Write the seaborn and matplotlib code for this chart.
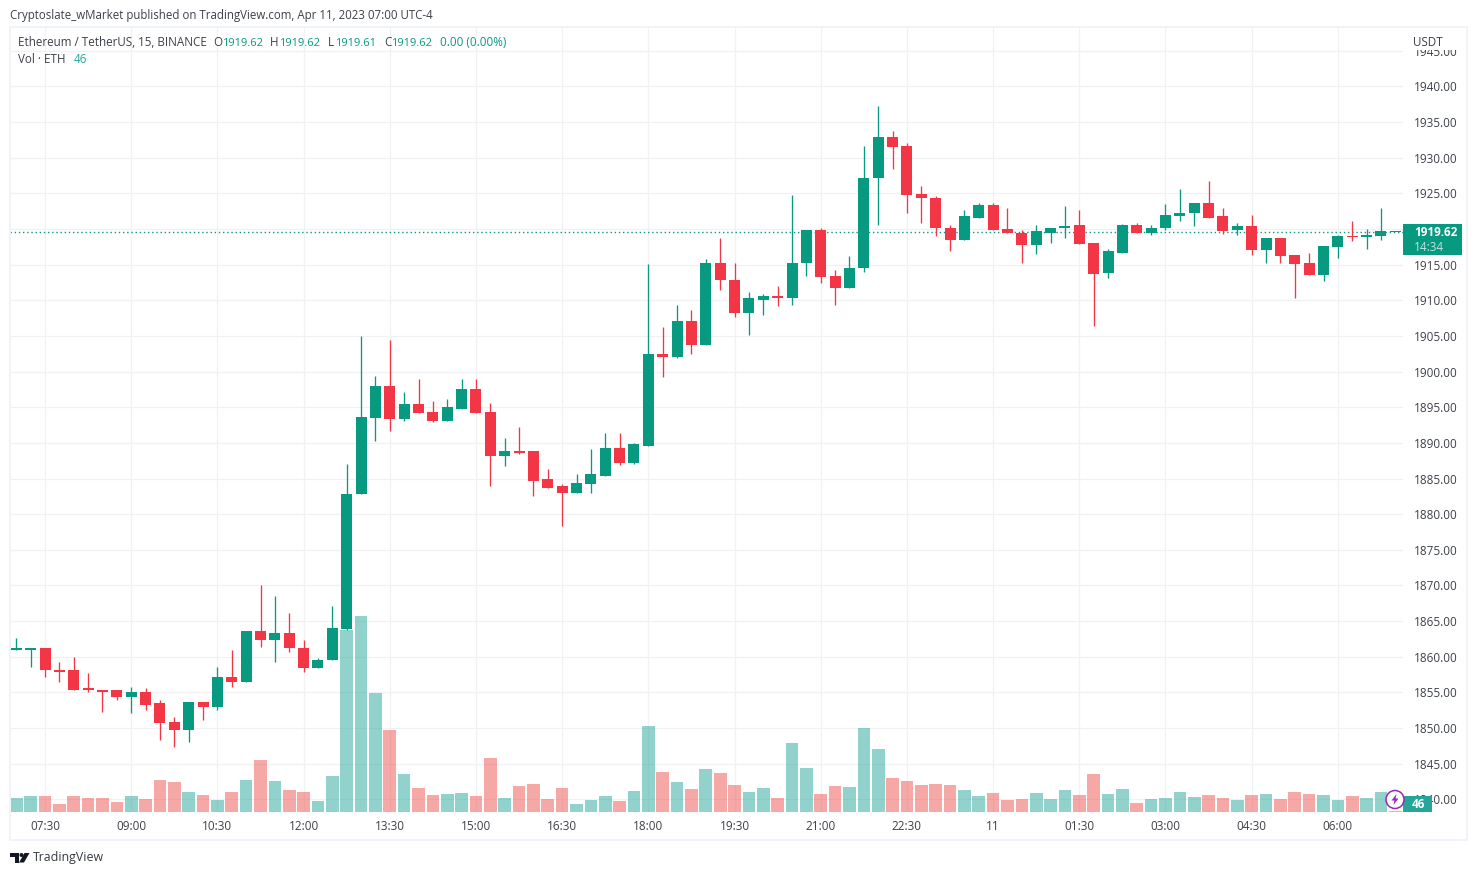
import numpy as np
import pandas as pd
import matplotlib
matplotlib.use("Agg")
import matplotlib.pyplot as plt
from matplotlib.patches import Rectangle, Polygon, Ellipse
import seaborn as sns

opens = [1861.0,1861.0,1861.2,1858.2,1858.1,1855.6,1855.4,1855.3,1854.3,1855.0,1853.5,1850.8,1849.8,1853.7,1852.9,1857.2,1856.4,1863.6,1862.4,1863.4,1861.3,1858.4,1859.5,1863.9,
         1882.8,1893.55,1898.0,1893.3,1895.5,1894.4,1893.1,1894.8,1897.6,1894.4,1888.2,1888.9,1888.8,1884.9,1883.9,1883.0,1884.3,1885.4,1889.35,1887.2,1889.6,1902.4,1902.1,1907.05,
         1903.8,1915.2,1912.9,1908.2,1910.1,1910.6,1910.3,1915.2,1919.8,1913.4,1911.7,1914.5,1927.1,1932.85,1931.6,1924.85,1924.4,1920.2,1918.4,1921.6,1923.3,1920.0,1919.5,1917.7,
         1919.5,1920.1,1920.5,1918.0,1913.8,1916.7,1920.5,1919.5,1920.1,1921.8,1922.2,1923.7,1921.8,1919.8,1920.4,1917.0,1918.7,1916.3,1915.2,1913.5,1917.45,1919.0,1918.85,1919.0,1919.62]
highs = [1862.6,1861.2,1861.2,1859.3,1860.0,1857.7,1855.4,1855.3,1855.7,1855.6,1853.9,1851.5,1853.7,1853.7,1858.6,1860.9,1863.6,1870.0,1868.5,1866.1,1862.3,1859.9,1867.1,1887.0,
         1905.0,1899.4,1904.5,1897.1,1899.0,1895.9,1896.2,1899.0,1899.0,1895.65,1890.75,1892.3,1888.8,1886.4,1884.2,1885.6,1889.2,1891.45,1891.45,1890.05,1915.05,1906.3,1909.4,1908.6,
         1915.75,1918.8,1915.2,1911.1,1910.85,1912.0,1924.7,1919.8,1920.2,1914.2,1916.2,1931.7,1937.3,1933.7,1932.0,1926.0,1924.6,1920.5,1922.6,1923.6,1923.7,1923.0,1919.8,1920.5,
         1920.2,1923.2,1922.6,1918.0,1917.15,1920.65,1920.8,1920.5,1923.5,1925.6,1923.7,1926.8,1923.0,1920.9,1921.9,1918.7,1918.7,1916.3,1916.7,1917.6,1919.1,1921.1,1920.0,1922.9,1919.62]
lows = [1860.9,1858.5,1857.1,1856.5,1855.4,1855.0,1852.3,1854.0,1852.1,1852.6,1848.4,1847.3,1848.1,1851.2,1852.6,1855.8,1856.4,1861.4,1859.3,1860.7,1857.8,1858.4,1859.5,1863.8,
        1882.8,1890.3,1891.7,1893.1,1894.25,1893.0,1893.1,1894.8,1894.25,1883.9,1886.7,1888.5,1882.6,1883.7,1878.3,1883.0,1883.0,1885.4,1886.96,1887.1,1889.6,1899.3,1901.9,1902.4,
        1903.8,1911.4,1907.6,1905.1,1907.9,1909.15,1909.4,1913.4,1912.4,1909.3,1911.7,1913.9,1920.5,1928.4,1922.2,1920.9,1919.0,1916.9,1918.4,1921.6,1919.8,1919.4,1915.3,1916.45,
        1918.0,1918.7,1917.85,1906.35,1913.1,1916.7,1919.4,1919.1,1919.8,1921.1,1920.4,1921.6,1919.25,1919.1,1916.3,1915.3,1915.3,1910.3,1913.5,1912.7,1916.0,1918.3,1917.15,1918.4,1919.61]
closes = [1861.2,1861.2,1858.1,1857.9,1855.4,1855.3,1855.1,1854.3,1855.0,1853.3,1850.7,1849.8,1853.7,1852.9,1857.2,1856.4,1863.6,1862.4,1863.4,1861.2,1858.4,1859.6,1864.0,1882.9,
          1893.7,1898.0,1893.3,1895.5,1894.25,1893.1,1895.1,1897.6,1894.25,1888.2,1888.9,1888.65,1884.7,1883.7,1883.0,1884.4,1885.6,1889.35,1887.2,1889.8,1902.4,1902.1,1907.05,1903.8,
          1915.2,1912.8,1908.2,1910.3,1910.6,1910.3,1915.3,1919.8,1913.2,1911.7,1914.6,1927.2,1932.85,1931.45,1924.7,1924.3,1920.1,1918.4,1921.8,1923.3,1919.8,1919.4,1917.7,1919.7,
          1920.2,1920.4,1917.85,1913.65,1916.9,1920.5,1919.5,1920.2,1921.9,1922.3,1923.7,1921.6,1919.7,1920.4,1917.0,1918.7,1916.2,1915.05,1913.5,1917.6,1919.0,1918.85,1919.1,1919.65,1919.62]
volumes = [560,640,640,320,640,560,560,400,640,520,1280,1200,800,680,480,800,1280,2080,1240,880,800,440,1440,7280,
           7840,4760,3280,1520,960,680,720,760,640,2160,560,1040,1120,520,960,320,480,640,440,840,3440,1600,1200,920,
           1720,1560,1080,800,960,560,2760,1760,720,1040,1000,3360,2520,1360,
           1240,1080,1120,1080,880,640,760,480,520,760,520,880,680,1520,720,920,360,520,560,800,600,680,560,480,680,720,520,800,720,680,480,640,560,800,46]
time_labels = ["07:30","09:00","10:30","12:00","13:30","15:00","16:30","18:00",
               "19:30","21:00","22:30","11","01:30","03:00","04:30","06:00"]
price_ticks = list(range(1840, 1950, 5))
last_price = 1919.62

W, H = 1477, 875
UP, DOWN = "#089981", "#f23645"
VUP, VDOWN = "#26a69a", "#ef5350"
TXT = "#131722"
GRID = "#f0f1f5"
FRAME = "#f0f3fa"

sns.set_theme(style="white")
FONT = ["Open Sans", "DejaVu Sans"]
plt.rcParams["font.family"] = FONT

fig = plt.figure(figsize=(W / 100, H / 100), dpi=100, facecolor="white")
def fx(x): return x / W
def fy(y): return 1 - y / H

L, R, T, B = 10, 1403, 28, 812
Y1940 = 86.4
ax = fig.add_axes([fx(L), fy(B), (R - L) / W, (B - T) / H])
ax.set_facecolor("white")
for s in ax.spines.values():
    s.set_visible(False)

df = pd.DataFrame({"i": np.arange(len(opens)), "o": opens, "h": highs, "l": lows,
                   "c": closes, "v": volumes})
df["dir"] = np.where(df.c >= df.o, "up", "down")

# candles
cols = df["dir"].map({"up": UP, "down": DOWN})
ax.vlines(df.i, df.l, df.h, colors=cols, lw=0.95, zorder=3)
lo = df[["o", "c"]].min(axis=1)
hi = df[["o", "c"]].max(axis=1)
ax.bar(df.i, np.maximum(hi - lo, 0.14), bottom=lo, width=0.766, color=cols, linewidth=0, zorder=4)
ax.axhline(last_price, color=UP, lw=1.0, ls=(0, (1, 2)), zorder=2)

# volume pane
ax2 = ax.twinx()
sns.barplot(data=df, x="i", y="v", hue="dir", palette={"up": VUP, "down": VDOWN},
            hue_order=["up", "down"], native_scale=True, dodge=False, width=0.88,
            errorbar=None, legend=False, alpha=0.5, linewidth=0, saturation=1, ax=ax2)
ax2.set_ylim(0, 784 * 40)
ax2.set_xlabel(""); ax2.set_ylabel("")
ax2.set_yticks([])
ax2.tick_params(left=False, right=False, labelright=False)
for s in ax2.spines.values():
    s.set_visible(False)
ax2.patch.set_visible(False)

xmin = (L - 16.3) / 14.365
xmax = (R - 16.3) / 14.365
ax.set_xlim(xmin, xmax)
ax2.set_xlim(xmin, xmax)
ax.set_ylim(1940 - (B - Y1940) / 7.13, 1940 + (Y1940 - T) / 7.13)

ax.set_xticks(np.arange(2, 2 + 6 * len(time_labels), 6))
ax.set_xticklabels(time_labels, fontsize=8.5, color=TXT, alpha=0.82)
ax.set_yticks(price_ticks)
ax.set_yticklabels([f"{p:.2f}" for p in price_ticks], fontsize=8.45, color=TXT, alpha=0.82)
ax.yaxis.tick_right()
ax.tick_params(axis="x", length=0, pad=6)
ax.tick_params(axis="y", length=0, pad=7.5)
ax.grid(True, color=GRID, lw=0.85, zorder=0)
ax.set_axisbelow(True)

def add(p, z):
    p.set_zorder(z)
    fig.add_artist(p)

def rect(x0, y0, x1, y1, color, z=5, **kw):
    add(Rectangle((fx(x0), fy(y1)), (x1 - x0) / W, (y1 - y0) / H, transform=fig.transFigure,
                  facecolor=color, edgecolor="none", **kw), z)

def poly(pts, color, z=7):
    add(Polygon([(fx(a), fy(b)) for a, b in pts], closed=True, transform=fig.transFigure,
                facecolor=color, edgecolor="none"), z)

def text(x, y, s, color=TXT, size=8.45, ha="left", weight="normal", alpha=0.82, z=8, va="center"):
    t = fig.text(fx(x), fy(y), s, color=color, fontsize=size, ha=ha, va=va,
                 fontweight=weight, alpha=alpha)
    t.set_zorder(z)
    return t

# frame and cover for the clipped top tick label
rect(1404, 28, 1466, 50, "white")
rect(9, 26, 1468, 28, FRAME, z=6)
rect(9, 839, 1468, 841, FRAME, z=6)
rect(9, 26, 11, 841, FRAME, z=6)
rect(1466, 26, 1468, 841, FRAME, z=6)

# header
text(10, 15, "Cryptoslate_wMarket published on TradingView.com, Apr 11, 2023 07:00 UTC-4", size=8.3)
BASE = 46
text(18, BASE, "Ethereum / TetherUS, 15, BINANCE", size=8.4, va="baseline")
GV = "#089981"
for lx, vx, lab, val in [(213, 222.5, "O", "1919.62"), (270, 279.5, "H", "1919.62"),
                         (328, 335.5, "L", "1919.61"), (384, 391.5, "C", "1919.62")]:
    text(lx, BASE, lab, size=8.4, va="baseline")
    text(vx, BASE, val, color=GV, size=8.0, alpha=1, va="baseline")
text(440, BASE, "0.00 (0.00%)", color=GV, size=8.4, alpha=1, va="baseline")
text(18, 59.5, "Vol · ETH", size=8.4)
text(74, 59.5, "46", color=VUP, size=8.4, alpha=1)
text(1413, 42, "USDT", size=8.4)

# last price tag
rect(1403, 224, 1462, 255, UP)
text(1414, 233, "1919.62", color="white", size=8.45, weight="bold", alpha=1)
text(1414, 247.5, "14:34", color="white", size=8.45, alpha=0.75)

# volume badge and icon
rect(1403, 796, 1432, 812, VUP)
text(1418.5, 805, "46", color="white", size=8.45, ha="center", weight="bold", alpha=1)
cx, cy = 1395, 799.5
add(Ellipse((fx(cx), fy(cy)), 18 / W, 18 / H, transform=fig.transFigure,
            facecolor="white", edgecolor="#9c27b0", lw=1.1), 6)
poly([(cx + 1.5, cy - 5.5), (cx - 3.5, cy + 1), (cx - 0.5, cy + 1), (cx - 1.5, cy + 5.5),
      (cx + 3.5, cy - 1), (cx + 0.5, cy - 1)], "#9c27b0")

# logo
LOGO = "#131722"
poly([(10, 853), (18.5, 853), (18.5, 862.5), (14.5, 862.5), (14.5, 857), (10, 857)], LOGO)
add(Ellipse((fx(21.5), fy(855)), 4 / W, 4 / H, transform=fig.transFigure,
            facecolor=LOGO, edgecolor="none"), 7)
poly([(24.5, 853), (29.5, 853), (24, 862.5), (19, 862.5)], LOGO)
text(33, 858, "TradingView", size=8.9, alpha=0.85)

fig.savefig("out.png", dpi=100, facecolor="white")
